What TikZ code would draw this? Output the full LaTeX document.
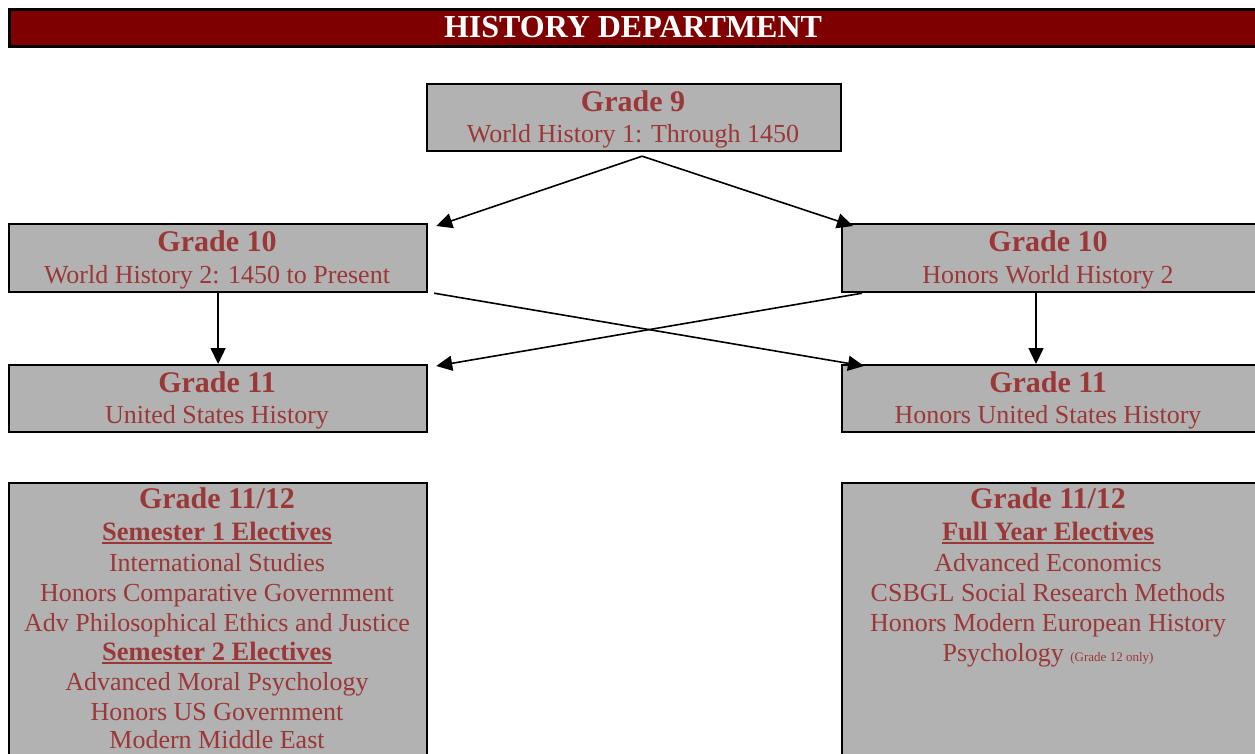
\documentclass[tikz,border=0pt]{standalone}
\usepackage{fontspec}
\setmainfont{Liberation Serif}
\usetikzlibrary{arrows.meta}
\definecolor{deptred}{RGB}{127,0,0}
\definecolor{boxgray}{RGB}{178,178,178}
\definecolor{txtred}{RGB}{155,55,55}
% thick underline for the elective group headings
\newcommand\deptul[1]{\setbox0\hbox{#1}\rlap{\rule[-4pt]{\wd0}{1.8pt}}\box0}
\begin{document}
\begin{tikzpicture}[x=1pt,y=-1pt,
  box/.style={draw=black, line width=2.2pt, fill=boxgray, inner sep=0pt, anchor=north west},
  head/.style={anchor=base, inner sep=0pt, text=txtred, font=\fontsize{30}{31}\bfseries\selectfont},
  sub/.style={anchor=base, inner sep=0pt, text=txtred, font=\fontsize{26}{30}\selectfont},
  grp/.style={anchor=base, inner sep=0pt, text=txtred, font=\fontsize{26.5}{30}\bfseries\selectfont},
  arr/.style={line width=1.6pt, -{Triangle[length=16pt,width=15pt]}}
]
\useasboundingbox (0,0) rectangle (1255,753);
\begin{scope}
\clip (0,0) rectangle (1255,753);

% title bar
\node[draw=black, line width=3pt, fill=deptred, inner sep=0pt, anchor=north west,
      minimum width=1260pt, minimum height=37pt] (title) at (8,8) {};
\node[anchor=base, inner sep=0pt, text=white, font=\fontsize{32}{34}\bfseries\selectfont]
  (titletext) at (633,37) {HISTORY DEPARTMENT};

% course boxes
\node[box, minimum width=414pt, minimum height=67pt] (g9)   at (426,83)  {};
\node[box, minimum width=418pt, minimum height=68pt] (g10l) at (8,223)   {};
\node[box, minimum width=420pt, minimum height=68pt] (g10r) at (841,223) {};
\node[box, minimum width=418pt, minimum height=67pt] (g11l) at (8,364)   {};
\node[box, minimum width=420pt, minimum height=67pt] (g11r) at (841,364) {};
\node[box, minimum width=418pt, minimum height=300pt] (ell) at (8,482)   {};
\node[box, minimum width=420pt, minimum height=300pt] (elr) at (841,482) {};

% box texts
\node[head] (g9h)   at (633,111)  {Grade 9};
\node[sub]  (g9s)   at (633,142)  {World History 1: Through 1450};
\node[head] (g10lh) at (217,251)  {Grade 10};
\node[sub]  (g10ls) at (217,283)  {World History 2: 1450 to Present};
\node[head] (g10rh) at (1048,251) {Grade 10};
\node[sub]  (g10rs) at (1048,283) {Honors World History 2};
\node[head] (g11lh) at (217,392)  {Grade 11};
\node[sub]  (g11ls) at (217,423)  {United States History};
\node[head] (g11rh) at (1048,392) {Grade 11};
\node[sub]  (g11rs) at (1048,423) {Honors United States History};

\node[head] (ellh) at (217,508) {Grade 11/12};
\node[grp]  (ell1) at (217,540) {\deptul{Semester 1 Electives}};
\node[sub]  (ell2) at (217,571) {International Studies};
\node[sub]  (ell3) at (217,601) {Honors Comparative Government};
\node[sub]  (ell4) at (217,631) {Adv Philosophical Ethics and Justice};
\node[grp]  (ell5) at (217,660) {\deptul{Semester 2 Electives}};
\node[sub]  (ell6) at (217,690) {Advanced Moral Psychology};
\node[sub]  (ell7) at (217,720) {Honors US Government};
\node[sub]  (ell8) at (217,748) {Modern Middle East};

\node[head] (elrh) at (1048,508) {Grade 11/12};
\node[grp]  (elr1) at (1048,540) {\deptul{Full Year Electives}};
\node[sub]  (elr2) at (1048,571) {Advanced Economics};
\node[sub]  (elr3) at (1048,601) {CSBGL Social Research Methods};
\node[sub]  (elr4) at (1048,631) {Honors Modern European History};
\node[sub]  (elr5) at (1048,661) {Psychology {\fontsize{13}{14}\selectfont(Grade 12 only)}};
\end{scope}

% connector end points
\coordinate (g9out)  at ([xshift=8pt,yshift=-4pt]g9.south);
\coordinate (g10lin) at ([xshift=8pt,yshift=-3pt]g10l.north east);
\coordinate (g10rin) at ([xshift=12pt,yshift=-3pt]g10r.north west);
\coordinate (g10lx)  at ([xshift=6pt]g10l.south east);
\coordinate (g10rx)  at ([xshift=21pt]g10r.south west);
\coordinate (g11lin) at ([xshift=8pt,yshift=-2pt]g11l.north east);
\coordinate (g11rin) at ([xshift=23pt,yshift=-2pt]g11r.north west);

\draw[arr] (g9out) -- (g10lin);
\draw[arr] (g9out) -- (g10rin);
\draw[arr] (g10lx) -- (g11rin);
\draw[arr] (g10rx) -- (g11lin);
\draw[arr] (g10l.south -| g11l.north) -- (g11l.north);
\draw[arr] (1036,291) coordinate (g10rdown) -- (g10rdown |- g11r.north);
\end{tikzpicture}
\end{document}
